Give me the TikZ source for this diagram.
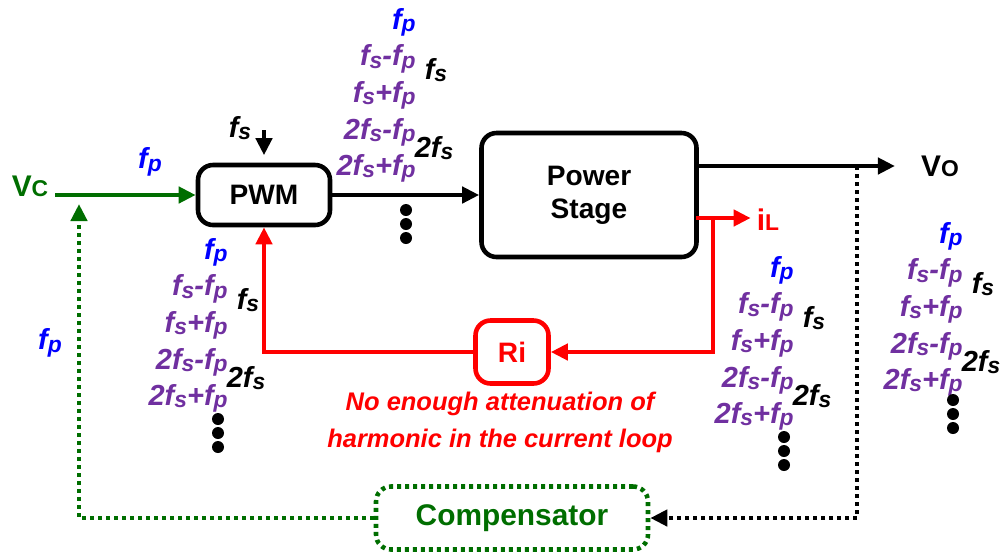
\documentclass[tikz,border=0pt]{standalone}
\usepackage{fontspec}
\setmainfont{Liberation Sans}
\usetikzlibrary{arrows.meta,positioning}
\definecolor{ctrlgreen}{RGB}{0,110,0}
\definecolor{harmpurple}{RGB}{112,48,160}
\definecolor{pblue}{RGB}{0,0,255}
\definecolor{loopred}{RGB}{255,0,0}
\newcommand{\frq}[1]{\textit{f}\raisebox{-0.15ex}{\fontsize{13}{13}\selectfont\textit{#1}}}
\newcommand{\spectrum}[4]{%
  \node[harm, anchor=north east] (#1list) at (#2,#3)
    {\textcolor{pblue}{\frq{p}}\\ \frq{s}-\frq{p}\\ \frq{s}+\frq{p}\\ 2\frq{s}-\frq{p}\\ 2\frq{s}+\frq{p}};
  \node[fsnum] (#1fs) at (#2+20,#3+62) {\frq{s}};
  \node[fsnum] (#1twofs) at (#2+18,#3+140) {2\frq{s}};
  \foreach \d in {0,1,2} \fill (#2-10,#3+#4+14*\d) circle (1.2mm);
}

\begin{document}
\begin{tikzpicture}[x=0.2mm, y=-0.2mm,
    block/.style={draw, line width=2.6pt, rounded corners=3mm, font=\fontsize{16}{19}\selectfont\bfseries, align=center},
    harm/.style={inner sep=0pt, align=right, color=harmpurple, font=\fontsize{16.5}{20.8}\selectfont\bfseries\itshape},
    fsnum/.style={inner sep=0pt, font=\fontsize{16.5}{18}\selectfont\bfseries\itshape},
    plabel/.style={color=pblue, font=\fontsize{16.5}{18}\selectfont\bfseries\itshape},
    sig/.style={font=\fontsize{17}{20}\selectfont\bfseries},
    barr/.style={-{Triangle[length=3.4mm,width=3.2mm]}, line width=2.6pt},
    rarr/.style={barr, color=loopred},
    garr/.style={barr, color=ctrlgreen},
    bdot/.style={barr, dash pattern=on 0.8mm off 0.8mm},
    gdot/.style={bdot, color=ctrlgreen}
  ]
  \useasboundingbox (0,0) rectangle (1005,553);
  \node[block, minimum width=26.4mm, minimum height=12mm] (pwm) at (264,195) {PWM};
  \node[block, minimum width=43mm, minimum height=24.8mm] (power) at (589,195) {Power\\Stage};
  \node[block, draw=loopred, text=loopred, minimum width=14.6mm, minimum height=12.6mm] (ri) at (512,352) {Ri};
  \node[block, draw=ctrlgreen, text=ctrlgreen, dash pattern=on 0.8mm off 0.8mm, minimum width=54.4mm, minimum height=12.6mm, font=\fontsize{17}{20}\selectfont\bfseries] (comp) at (512,518) {Compensator};

  \node[sig, color=ctrlgreen] (vc) at (30,186) {V{\fontsize{13}{13}\selectfont C}};
  \coordinate (vcin) at (55,195);
  \draw[garr] (vcin) -- (pwm.west);
  \node[plabel] (fpin) at (150,162) {\frq{p}};

  \node[fsnum] (clk) at (240,128) {\frq{s}};
  \coordinate (clktop) at (264,130);
  \draw[barr, shorten >=1.5mm] (clktop) -- (pwm.north);

  \draw[barr] (pwm.east) -- (power.west);

  \coordinate (psout) at (696,166);
  \node[sig] (vo) at (940,166) {V{\fontsize{13}{13}\selectfont O}};
  \draw[barr, shorten >=4mm] (psout) -- (vo.west);

  \coordinate (psil) at (696,218);
  \node[sig, color=loopred] (il) at (768,220) {i{\fontsize{13}{13}\selectfont L}};
  \draw[rarr] (psil) -- (psil -| il.west);

  \coordinate (tap) at (713,218);
  \draw[rarr] (tap) |- (ri.east);
  \draw[rarr] (ri.west) -| (pwm.south);
  \node[color=loopred, align=center, font=\fontsize{14.5}{21}\selectfont\bfseries\itshape] (note) at (500,422)
    {No enough attenuation of\\harmonic in the current loop};

  \coordinate (vtap) at (857,166);
  \draw[bdot] (vtap) |- (comp.east);
  \coordinate (vcfb) at (79,204);
  \draw[gdot] (comp.west) -| (vcfb);
  \node[plabel] (fpfb) at (50,343) {\frq{p}};

  \spectrum{pwmout}{416}{8}{202}
  \spectrum{pwmin}{228}{238}{181}
  \spectrum{cur}{794}{256}{181}
  \spectrum{out}{963}{222}{178}
\end{tikzpicture}
\end{document}
